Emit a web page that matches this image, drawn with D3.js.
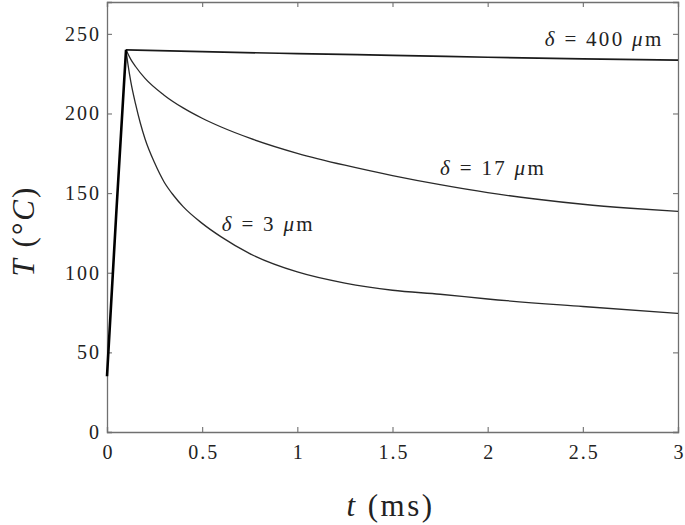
<!DOCTYPE html>
<html>
<head>
<meta charset="utf-8">
<script src="https://cdn.jsdelivr.net/npm/d3@7/dist/d3.min.js"></script>
<style>
  body { margin: 0; background: #fff; }
  svg { display: block; }
  text { font-family: "Liberation Serif", "Times New Roman", serif; fill: #222; }
</style>
</head>
<body>
<svg id="chart" width="685" height="525"></svg>
<script>
// ---- data ----
const xTicks = [0, 0.5, 1, 1.5, 2, 2.5, 3];
const xTickLabels = ["0", "0.5", "1", "1.5", "2", "2.5", "3"];
const yTicks = [0, 50, 100, 150, 200, 250];
const yTickLabels = ["0", "50", "100", "150", "200", "250"];

// heating phase (common to all thicknesses)
const heatT = [0, 0.05, 0.1];
const heatV = [35, 140, 240];

// cooling, delta = 400 um
const t400 = [0.1, 0.5, 1, 1.5, 2, 2.5, 3];
const v400 = [240, 238.8, 237.6, 236.5, 235.3, 234.3, 233.5];

// cooling, delta = 17 um
const t17 = [0.1, 0.125, 0.15, 0.2, 0.3, 0.4, 0.5, 0.6, 0.75, 1, 1.25, 1.5, 1.75, 2, 2.25, 2.5, 2.75, 3];
const v17 = [240, 234, 229.5, 222, 211.5, 203.5, 197, 191.5, 184.5, 175, 167.5, 161, 155.3, 150.3, 146.3, 143, 140.5, 138.5];

// cooling, delta = 3 um
const t3 = [0.1, 0.11, 0.125, 0.15, 0.175, 0.2, 0.25, 0.3, 0.35, 0.4, 0.5, 0.6, 0.75, 1, 1.25, 1.5, 1.75, 2, 2.5, 3];
const v3 = [240, 231, 220, 206, 194, 184, 169, 157, 148.5, 141.5, 131, 122.5, 112, 100.5, 93.5, 89, 86.5, 83.5, 78.8, 74.5];

const seriesNames = ["δ = 400 μm", "δ = 17 μm", "δ = 3 μm"];

// ---- layout ----
const W = 685, H = 525;
const m = { left: 107, right: 7, top: 2, bottom: 93 };
const pw = W - m.left - m.right, ph = H - m.top - m.bottom;

const svg = d3.select("#chart");
const x = d3.scaleLinear().domain([0, 3]).range([m.left, m.left + pw]);
const y = d3.scaleLinear().domain([0, 270]).range([m.top + ph, m.top]);

const axisColor = "#707070";

// axes (ticks inward, mirrored on top/right)
const gx = svg.append("g").attr("transform", `translate(0,${m.top + ph})`)
  .call(d3.axisBottom(x).tickValues(xTicks).tickSize(-5).tickPadding(13)
        .tickFormat((d, i) => xTickLabels[i]));
const gy = svg.append("g").attr("transform", `translate(${m.left},0)`)
  .call(d3.axisLeft(y).tickValues(yTicks).tickSize(-5).tickPadding(6)
        .tickFormat((d, i) => yTickLabels[i]));
const gxt = svg.append("g").attr("transform", `translate(0,${m.top})`)
  .call(d3.axisTop(x).tickValues(xTicks).tickSize(-5).tickFormat(""));
const gyr = svg.append("g").attr("transform", `translate(${m.left + pw},0)`)
  .call(d3.axisRight(y).tickValues(yTicks).tickSize(-5).tickFormat(""));

[gx, gy, gxt, gyr].forEach(g => {
  g.select(".domain").attr("stroke", axisColor).attr("stroke-width", 1.3);
  g.selectAll(".tick line").attr("stroke", axisColor).attr("stroke-width", 1.1);
  g.selectAll(".tick text").attr("font-family", "Liberation Serif, serif")
    .attr("font-size", 20).attr("fill", "#222").style("letter-spacing", "2px");
});
gx.selectAll(".tick text").attr("dy", "0.71em").attr("dx", "1px");

// lines
const line = d3.line().x(d => x(d[0])).y(d => y(d[1])).curve(d3.curveMonotoneX);
const zip = (a, b) => a.map((v, i) => [v, b[i]]);
const plot = svg.append("g");

plot.append("path").datum(zip(t3, v3)).attr("d", line)
  .attr("fill", "none").attr("stroke", "#2a2a2a").attr("stroke-width", 1.3);
plot.append("path").datum(zip(t17, v17)).attr("d", line)
  .attr("fill", "none").attr("stroke", "#2a2a2a").attr("stroke-width", 1.3);
plot.append("path").datum(zip(t400, v400)).attr("d", line)
  .attr("fill", "none").attr("stroke", "#1a1a1a").attr("stroke-width", 1.7);
plot.append("path").datum(zip(heatT, heatV)).attr("d", d3.line().x(d => x(d[0])).y(d => y(d[1])))
  .attr("fill", "none").attr("stroke", "#000").attr("stroke-width", 2.6)
  .attr("stroke-linejoin", "round");

// annotations
const ann = [
  { name: seriesNames[0], t: 2.30, v: 242.5 },
  { name: seriesNames[1], t: 1.75, v: 161.4 },
  { name: seriesNames[2], t: 0.603, v: 126.4 }
];
ann.forEach(a => {
  const parts = a.name.split(" ");           // ["δ", "=", "N", "μm"]
  const txt = svg.append("text").attr("x", x(a.t)).attr("y", y(a.v))
    .attr("font-size", 21).style("letter-spacing", "2.3px");
  txt.append("tspan").attr("font-style", "italic").text(parts[0]);
  txt.append("tspan").text(" " + parts[1] + " " + parts[2] + " ");
  txt.append("tspan").attr("font-style", "italic").text(parts[3].charAt(0));
  txt.append("tspan").text(parts[3].slice(1));
});

// axis titles
const xt = svg.append("text").attr("x", m.left + pw / 2 - 2).attr("y", 516)
  .attr("text-anchor", "middle").attr("font-size", 31).style("letter-spacing", "2.5px");
xt.append("tspan").attr("font-style", "italic").text("t");
xt.append("tspan").text(" (ms)");

const yt = svg.append("text")
  .attr("transform", `translate(34,${m.top + ph / 2 + 14}) rotate(-90)`)
  .attr("text-anchor", "middle").attr("font-size", 31).style("letter-spacing", "2px");
yt.append("tspan").attr("font-style", "italic").text("T");
yt.append("tspan").text(" (°");
yt.append("tspan").attr("font-style", "italic").text("C");
yt.append("tspan").text(")");
</script>
</body>
</html>
